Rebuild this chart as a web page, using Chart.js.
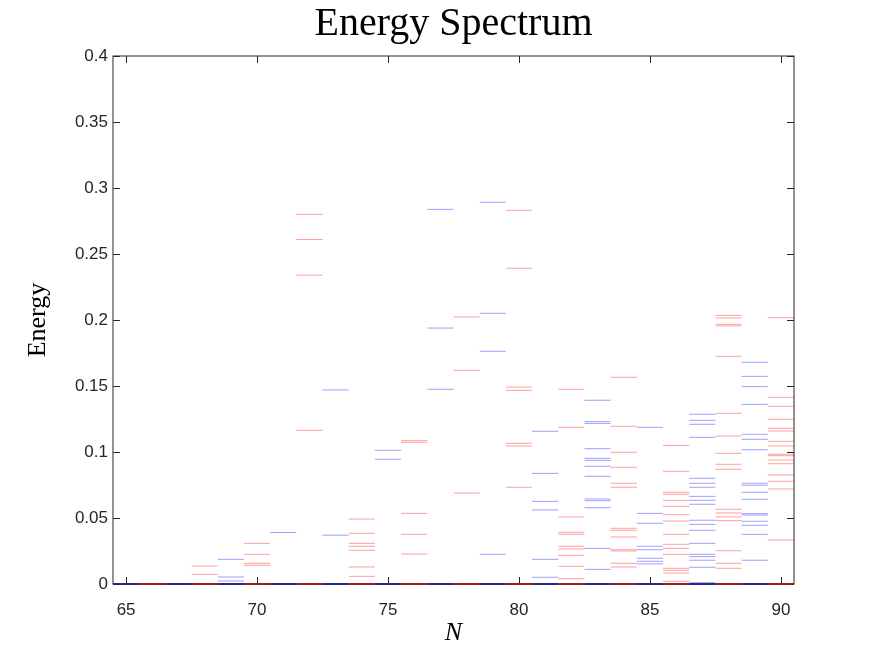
<!DOCTYPE html>
<html>
<head>
<meta charset="utf-8">
<script src="https://cdn.jsdelivr.net/npm/chart.js@4.4.1/dist/chart.umd.min.js"></script>
<style>
  html, body { margin: 0; padding: 0; background: #fff; }
</style>
</head>
<body>
<canvas id="espectro" width="875" height="657"></canvas>
<script>
// energy levels, one list per N (0 = ground levels on the axis)
const levels65 = [0];
const levels66 = [0];
const levels67 = [0];
const levels68 = [0, 0.0073, 0.0136];
const levels69 = [0, 0.0023, 0.0053, 0.0187];
const levels70 = [0, 0.0142, 0.0157, 0.0225, 0.0308];
const levels71 = [0, 0.039];
const levels72 = [0, 0.1164, 0.234, 0.261, 0.280];
const levels73 = [0, 0.037, 0.147];
const levels74 = [0, 0.0058, 0.0129, 0.0255, 0.0286, 0.0308, 0.0384, 0.0492];
const levels75 = [0, 0.0945, 0.1013];
const levels76 = [0, 0.0227, 0.0376, 0.0535, 0.1073, 0.1086];
const levels77 = [0, 0.1475, 0.1939, 0.2838];
const levels78 = [0, 0.0689, 0.1619, 0.2023];
const levels79 = [0, 0.0225, 0.1763, 0.2051, 0.2892];
const levels80 = [0, 0.0733, 0.1045, 0.1066, 0.1467, 0.1492, 0.2392, 0.2831];
const levels81 = [0, 0.0051, 0.0187, 0.0561, 0.0626, 0.0838, 0.1157];
const levels82 = [0, 0.004, 0.0134, 0.0217, 0.0265, 0.0286, 0.0377, 0.0392, 0.0508, 0.1187, 0.1475];
const levels83 = [0, 0.0111, 0.027, 0.0578, 0.0631, 0.0644, 0.0816, 0.0892, 0.0937, 0.0952, 0.1025, 0.1217, 0.123, 0.1392];
const levels84 = [0, 0.0129, 0.0157, 0.025, 0.026, 0.0356, 0.0407, 0.0422, 0.0733, 0.0763, 0.0884, 0.0998, 0.1195, 0.1566];
const levels85 = [0, 0.0152, 0.0172, 0.0195, 0.026, 0.0286, 0.046, 0.0535, 0.1187];
const levels86 = [0, 0.002, 0.0083, 0.0104, 0.0119, 0.0225, 0.027, 0.0301, 0.0376, 0.0477, 0.0525, 0.0589, 0.0634, 0.068, 0.0695, 0.0854, 0.105];
const levels87 = [0, 0.001, 0.0127, 0.018, 0.0207, 0.0225, 0.0308, 0.0407, 0.0452, 0.0483, 0.0604, 0.0634, 0.0664, 0.0733, 0.0763, 0.0801, 0.1111, 0.121, 0.124, 0.1286];
const levels88 = [0, 0.0119, 0.0157, 0.0252, 0.048, 0.0508, 0.0538, 0.0566, 0.0869, 0.0907, 0.099, 0.1121, 0.1293, 0.1725, 0.1955, 0.1967, 0.2015, 0.2035];
const levels89 = [0, 0.018, 0.0376, 0.0445, 0.0475, 0.0523, 0.0533, 0.0642, 0.0695, 0.0748, 0.0763, 0.1017, 0.1096, 0.1134, 0.1361, 0.1495, 0.1573, 0.168];
const levels90 = [0, 0.0333, 0.072, 0.0778, 0.0826, 0.0911, 0.0939, 0.0972, 0.0983, 0.1045, 0.1081, 0.1159, 0.118, 0.1248, 0.1346, 0.1414, 0.2017];

const nValues = [65, 66, 67, 68, 69, 70, 71, 72, 73, 74, 75, 76, 77, 78, 79, 80, 81, 82, 83, 84, 85, 86, 87, 88, 89, 90];
const allLevels = [levels65, levels66, levels67, levels68, levels69, levels70, levels71, levels72, levels73,
    levels74, levels75, levels76, levels77, levels78, levels79, levels80, levels81, levels82, levels83,
    levels84, levels85, levels86, levels87, levels88, levels89, levels90];

const xTicks = [65, 70, 75, 80, 85, 90];
const yTicks = [0, 0.05, 0.1, 0.15, 0.2, 0.25, 0.3, 0.35, 0.4];
const yTickLabels = ['0', '0.05', '0.1', '0.15', '0.2', '0.25', '0.3', '0.35', '0.4'];

// one short horizontal segment per level, N-0.5 .. N+0.5, broken by a null point
function MontarSegmentos(paridade) {
    const pontos = [];
    allLevels.forEach(function (lista, i) {
        const n = nValues[i];
        if (n % 2 !== paridade) return;
        lista.forEach(function (e) {
            pontos.push({ x: n - 0.5, y: e }, { x: n + 0.5, y: e }, { x: n + 0.5, y: null });
        });
    });
    return pontos;
}

function Serie(paridade, cor, corZero) {
    return {
        data: MontarSegmentos(paridade),
        borderColor: cor,
        borderWidth: 1,
        pointRadius: 0,
        spanGaps: false,
        tension: 0,
        clip: 3,
        segment: {
            borderColor: ctx => ctx.p0.parsed.y === 0 ? corZero : undefined,
            borderWidth: ctx => ctx.p0.parsed.y === 0 ? 2 : undefined
        }
    };
}

// box round the axes with inward tick marks, MATLAB style
const caixaEixos = {
    id: 'caixaEixos',
    beforeDatasetsDraw(chart) {
        const a = chart.chartArea;
        const ctx = chart.ctx;
        const sx = chart.scales.x, sy = chart.scales.y;
        ctx.save();
        ctx.strokeStyle = '#262626';
        ctx.lineWidth = 1;
        ctx.strokeRect(a.left, a.top, a.right - a.left, a.bottom - a.top);
        ctx.beginPath();
        xTicks.forEach(function (v) {
            const px = Math.round(sx.getPixelForValue(v)) + 0.5;
            ctx.moveTo(px, a.bottom); ctx.lineTo(px, a.bottom - 7);
            ctx.moveTo(px, a.top); ctx.lineTo(px, a.top + 7);
        });
        yTicks.forEach(function (v) {
            const py = Math.round(sy.getPixelForValue(v)) + 0.5;
            ctx.moveTo(a.left, py); ctx.lineTo(a.left + 7, py);
            ctx.moveTo(a.right, py); ctx.lineTo(a.right - 7, py);
        });
        ctx.stroke();
        ctx.restore();
    }
};

new Chart(document.getElementById('espectro'), {
    type: 'line',
    data: {
        datasets: [
            Serie(0, 'rgba(255, 0, 0, 0.38)', 'rgba(150, 20, 20, 0.9)'),
            Serie(1, 'rgba(0, 0, 255, 0.38)', 'rgba(30, 30, 130, 0.9)')
        ]
    },
    plugins: [caixaEixos],
    options: {
        responsive: false,
        animation: false,
        layout: { padding: { left: 0, right: 81, top: 0, bottom: 0 } },
        plugins: {
            legend: { display: false },
            tooltip: { enabled: false },
            title: {
                display: true,
                text: 'Energy Spectrum',
                fullSize: false,
                color: '#000',
                font: { family: 'Liberation Serif', size: 40, weight: 'normal' },
                padding: { top: 0, bottom: 8 }
            }
        },
        scales: {
            x: {
                type: 'linear',
                min: 64.5,
                max: 90.5,
                afterBuildTicks: s => { s.ticks = xTicks.map(v => ({ value: v })); },
                afterFit: s => { s.height = 73; },
                grid: { display: false, drawTicks: false },
                border: { display: false },
                ticks: {
                    color: '#262626',
                    font: { family: 'Liberation Sans', size: 17 },
                    padding: 16,
                    maxRotation: 0,
                    callback: v => String(v)
                },
                title: {
                    display: true,
                    text: 'N',
                    color: '#000',
                    font: { family: 'Liberation Serif', size: 26, style: 'italic' },
                    padding: { top: 0, bottom: 8.4 }
                }
            },
            y: {
                min: 0,
                max: 0.4,
                afterBuildTicks: s => { s.ticks = yTicks.map(v => ({ value: v })); },
                afterFit: s => { s.width = 113; },
                grid: { display: false, drawTicks: false },
                border: { display: false },
                ticks: {
                    color: '#262626',
                    font: { family: 'Liberation Sans', size: 17 },
                    padding: 5,
                    callback: (v, i) => yTickLabels[i]
                },
                title: {
                    display: true,
                    text: 'Energy',
                    color: '#000',
                    font: { family: 'Liberation Serif', size: 26 },
                    padding: { top: 22.4, bottom: 0 }
                }
            }
        }
    }
});
</script>
</body>
</html>
